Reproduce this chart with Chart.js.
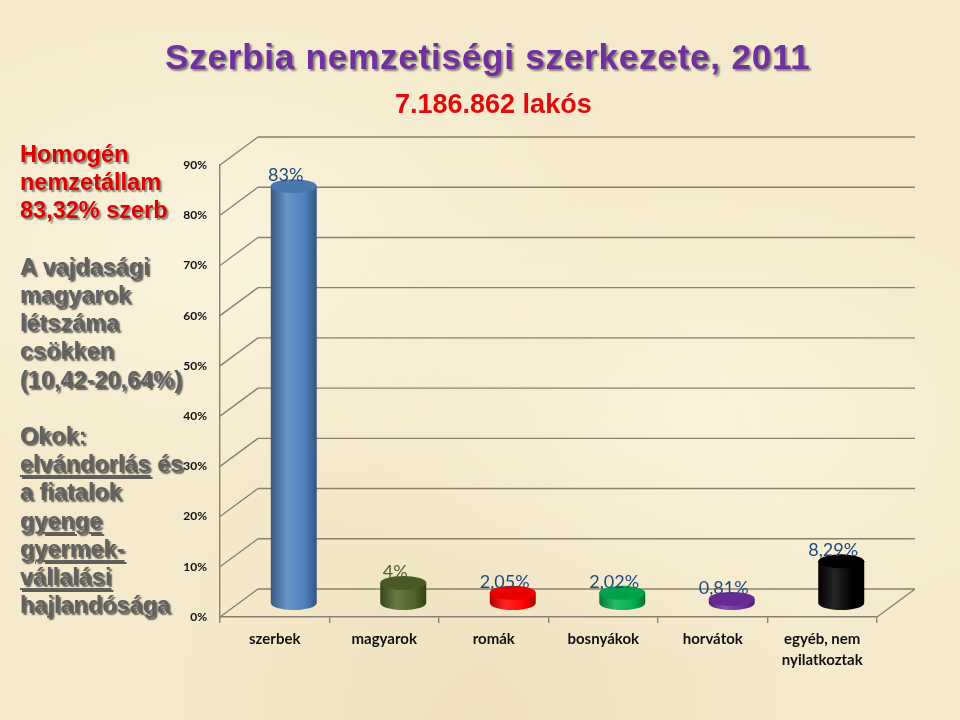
<!DOCTYPE html>
<html lang="hu">
<head>
<meta charset="utf-8">
<title>Szerbia nemzetiségi szerkezete, 2011</title>
<script src="https://cdn.jsdelivr.net/npm/chart.js@4.4.1/dist/chart.umd.min.js"></script>
<style>
  html, body { margin: 0; padding: 0; }
  body {
    width: 960px; height: 720px; position: relative; overflow: hidden;
    font-family: "Liberation Sans", Arial, sans-serif;
    background:
      radial-gradient(ellipse at 22% 35%, rgba(255,251,236,0.55), rgba(255,251,236,0) 38%),
      radial-gradient(ellipse at 72% 58%, rgba(255,251,236,0.5), rgba(255,251,236,0) 42%),
      radial-gradient(ellipse at 50% 105%, rgba(226,206,160,0.3), rgba(226,206,160,0) 50%),
      #F5EACB;
  }
  #chart { position: absolute; left: 0; top: 0; }
  .title {
    position: absolute; left: 165px; top: 39px; margin: 0;
    font-size: 35px; line-height: 1; font-weight: bold; letter-spacing: 0.8px;
    color: #7030A0; white-space: nowrap;
    text-shadow: 2px 2px 2px rgba(40,40,40,0.55);
  }
  .subtitle {
    position: absolute; left: 395px; top: 91px;
    font-size: 27px; line-height: 1; font-weight: bold;
    color: #E20A0A; white-space: nowrap;
  }
  .notes {
    position: absolute; left: 20px; top: 140px;
    font-size: 23.5px; line-height: 28.2px; font-weight: bold;
    color: #616161; white-space: nowrap;
    text-shadow: 2px 2px 1.5px rgba(0,0,0,0.6);
  }
  .notes .red { color: #E00000; text-shadow: 2px 2px 1.5px rgba(0,0,0,0.45); }
  .notes u { text-decoration-thickness: 2px; text-underline-offset: 3px; }
</style>
</head>
<body>
<canvas id="chart" width="960" height="720"></canvas>

<div class="title">Szerbia nemzetiségi szerkezete, 2011</div>
<div class="subtitle">7.186.862 lakós</div>

<div class="notes">
  <div class="red">Homogén</div>
  <div class="red">nemzetállam</div>
  <div class="red">83,32% szerb</div>
  <div>&nbsp;</div>
  <div>A vajdasági</div>
  <div>magyarok</div>
  <div>létszáma</div>
  <div>csökken</div>
  <div>(10,42-20,64%)</div>
  <div>&nbsp;</div>
  <div>Okok:</div>
  <div><u>elvándorlás</u> és</div>
  <div>a fiatalok</div>
  <div><u>gyenge</u></div>
  <div><u>gyermek-</u></div>
  <div><u>vállalási</u></div>
  <div>hajlandósága</div>
</div>

<script>
// ethnic groups and their share of the population (%)
const groups = ['szerbek', 'magyarok', 'romák', 'bosnyákok', 'horvátok', ['egyéb, nem', 'nyilatkoztak']];
const shares = [83, 4, 2.05, 2.02, 0.81, 8.29];
const yMax = 90;
const yStep = 10;

const barColors = ['#4F81BD', '#4F6228', '#FF0000', '#00B050', '#7030A0', '#000000'];
const labelColors = ['#1F497D', '#4F6228', '#1F497D', '#1F497D', '#1F497D', '#1F497D'];
const gridColor = '#8A8172';
const depth = { dx: 38, dy: -28 };

function shade(hex, amt) {
  const n = parseInt(hex.slice(1), 16);
  let r = n >> 16, g = (n >> 8) & 255, b = n & 255;
  const t = amt < 0 ? 0 : 255, p = Math.abs(amt);
  r = Math.round(r + (t - r) * p); g = Math.round(g + (t - g) * p); b = Math.round(b + (t - b) * p);
  return `rgb(${r},${g},${b})`;
}

function fmtShare(v) {
  return String(v).replace('.', ',') + '%';
}

// back wall, left wall, floor edge and cylinders (fake 3D like the Excel chart)
const cylinders = {
  id: 'cylinders',
  beforeDatasetsDraw(chart) {
    const { ctx, chartArea: { left, right }, scales: { y } } = chart;
    ctx.save();
    ctx.strokeStyle = gridColor;
    ctx.lineWidth = 1.4;
    ctx.beginPath();
    y.ticks.forEach(t => {
      const py = y.getPixelForValue(t.value);
      ctx.moveTo(left + depth.dx, py + depth.dy);
      ctx.lineTo(right + depth.dx, py + depth.dy);
      ctx.moveTo(left, py);
      ctx.lineTo(left + depth.dx, py + depth.dy);
    });
    const y0 = y.getPixelForValue(0);
    ctx.moveTo(right, y0);
    ctx.lineTo(right + depth.dx, y0 + depth.dy);
    ctx.stroke();
    ctx.restore();
  },
  afterDatasetsDraw(chart) {
    const { ctx } = chart;
    const meta = chart.getDatasetMeta(0);
    ctx.save();
    meta.data.forEach((el, i) => {
      const color = barColors[i];
      const cx = el.x + depth.dx / 2;
      const top = el.y + depth.dy / 2;
      const bot = el.base + depth.dy / 2;
      const rx = el.width / 2, ry = 7;

      const grad = ctx.createLinearGradient(cx - rx, 0, cx + rx, 0);
      grad.addColorStop(0, shade(color, -0.3));
      grad.addColorStop(0.35, shade(color, 0.15));
      grad.addColorStop(0.75, color);
      grad.addColorStop(1, shade(color, -0.35));

      ctx.beginPath();
      ctx.moveTo(cx - rx, top);
      ctx.lineTo(cx - rx, bot);
      ctx.ellipse(cx, bot, rx, ry, 0, Math.PI, 0, true);
      ctx.lineTo(cx + rx, top);
      ctx.closePath();
      ctx.fillStyle = grad;
      ctx.fill();

      ctx.beginPath();
      ctx.ellipse(cx, top, rx, ry, 0, 0, Math.PI * 2);
      ctx.fillStyle = shade(color, -0.08);
      ctx.fill();

      ctx.font = '18px Lato, "Open Sans", sans-serif';
      ctx.fillStyle = labelColors[i];
      ctx.textAlign = 'center';
      ctx.textBaseline = 'middle';
      ctx.fillText(fmtShare(shares[i]), cx - 8, top - 11);
    });
    ctx.restore();
  }
};

Chart.defaults.font.family = 'Lato, "Open Sans", sans-serif';

new Chart(document.getElementById('chart'), {
  type: 'bar',
  data: {
    labels: groups,
    datasets: [{
      data: shares,
      backgroundColor: 'rgba(0,0,0,0)',
      borderWidth: 0,
      categoryPercentage: 1,
      barPercentage: 0.42
    }]
  },
  options: {
    responsive: false,
    animation: false,
    layout: { padding: { left: 180, right: 83, top: 165, bottom: 43 } },
    plugins: { legend: { display: false }, tooltip: { enabled: false } },
    scales: {
      y: {
        min: 0, max: yMax,
        afterFit: s => { s.width = 40; },
        ticks: {
          stepSize: yStep,
          callback: v => v + '%',
          color: '#111',
          padding: 13,
          font: { size: 12, weight: 'bold' }
        },
        grid: { display: false, drawTicks: false },
        border: { display: true, color: gridColor, width: 1.4 }
      },
      x: {
        afterFit: s => { s.height = 60; },
        ticks: {
          color: '#111',
          padding: 6,
          font: { size: 15, weight: 'bold', lineHeight: 1.4 },
          maxRotation: 0
        },
        grid: { display: true, drawOnChartArea: false, drawTicks: true, tickLength: 6, color: gridColor, lineWidth: 1.4 },
        border: { display: true, color: gridColor, width: 1.4 }
      }
    }
  },
  plugins: [cylinders]
});
</script>
</body>
</html>
